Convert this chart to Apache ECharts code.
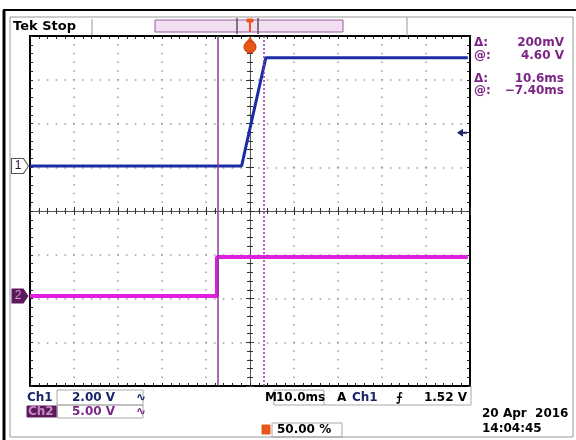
<!DOCTYPE html>
<html>
<head>
<meta charset="utf-8">
<script src="https://cdn.jsdelivr.net/npm/echarts@6/dist/echarts.min.js"></script>
<style>
html, body { margin: 0; padding: 0; background: #fff; }
#main { width: 576px; height: 440px; }
</style>
</head>
<body>
<div id="main"></div>
<script>
// channel 1 (blue), time in ms, level in V
var ch1Time = [-50, -1.9, -1.3, 3.6, 49.5];
var ch1Volt = [0, 0, 0.55, 4.95, 4.95];
// channel 2 (magenta)
var ch2Time = [-50, -7.5, -7.5, 49.5];
var ch2Volt = [0, 0, 4.45, 4.45];
// cursors (ms) and trigger level (V on ch1)
var cursorTimes = [-7.4, 3.2];
var trigLevel = 1.52;
var readouts = [['Δ:', '200mV'], ['@:', '4.60 V'], ['Δ:', '10.6ms'], ['@:', '−7.40ms']];

var L = 30, T = 36, W = 440, H = 350;
var ch1Scale = 2, ch1Pos = 1.03;   // V/div, ground position in divisions
var ch2Scale = 5, ch2Pos = -1.94;
var FONT = 'bold 12px "DejaVu Sans", sans-serif';
var PURPLE = '#7b2585', NAVY = '#1b2466';

var chart = echarts.init(document.getElementById('main'));

function pairs(xs, ys) { return xs.map(function (x, i) { return [x, ys[i]]; }); }
function grid() { return { left: L, top: T, width: W, height: H }; }
function divAxis(gi, pos, max, extra) {
  var a = {
    gridIndex: gi, type: 'value', position: pos, min: -max, max: max, interval: 1,
    axisLine: { show: true, onZero: false, lineStyle: { color: '#000', width: 2 } },
    axisTick: { show: true, inside: true, length: 3, lineStyle: { color: '#222' } },
    minorTick: { show: true, splitNumber: 5, length: 3, lineStyle: { color: '#222' } },
    axisLabel: { show: false }, splitLine: { show: false }
  };
  return Object.assign(a, extra || {});
}
function centerAxis(gi, max, inside, showLine) {
  return {
    gridIndex: gi, type: 'value', min: -max, max: max, interval: 1,
    axisLine: { show: showLine, onZero: true, lineStyle: { color: '#555', width: 1 } },
    axisTick: { show: true, inside: inside, length: 4, lineStyle: { color: '#333' } },
    minorTick: { show: true, splitNumber: 5, length: 3, lineStyle: { color: '#333' } },
    axisLabel: { show: false }, splitLine: { show: false }
  };
}
var dotsV = { show: true, lineStyle: { color: '#999', width: 1.5, type: [1.5, 7.25], dashOffset: 0.75 } };
var dotsH = { show: true, lineStyle: { color: '#999', width: 1.5, type: [1.5, 7.3], dashOffset: 0.75 } };

function txt(x, y, s, color, align, font) {
  return { type: 'text', x: x, y: y, silent: true, z: 10,
    style: { text: s, fill: color, font: font || FONT, textAlign: align || 'left', textVerticalAlign: 'middle' } };
}
function box(x, y, w, h, stroke, fill) {
  return { type: 'rect', silent: true, z: 5, shape: { x: x, y: y, width: w, height: h },
    style: { fill: fill || 'none', stroke: stroke || '#aaa', lineWidth: 1 } };
}
function ln(x1, y1, x2, y2, color, w) {
  return { type: 'line', silent: true, z: 6, shape: { x1: x1, y1: y1, x2: x2, y2: y2 },
    style: { stroke: color, lineWidth: w || 1 } };
}

var graphics = [
  // outer frame
  ln(4, 10, 4, 440, '#000', 3), ln(3, 10, 576, 10, '#000', 2),
  ln(10, 17, 10, 437, '#999', 1), ln(10, 17, 573, 17, '#999', 1),
  ln(573, 17, 573, 437, '#999', 1), ln(10, 437, 573, 437, '#999', 1),
  // header
  txt(13, 27, 'Tek Stop', '#000', 'left', 'bold 13px "DejaVu Sans", sans-serif'),
  ln(92, 19, 92, 35, '#999', 1), ln(407, 17, 407, 36, '#999', 1),
  box(155, 20, 188, 12, '#9a5aa0', '#f2dff2'),
  ln(237, 18, 237, 34, '#555', 1.5), ln(258, 18, 258, 34, '#555', 1.5),
  box(247, 19, 6, 3, '#e8561a', '#e8561a'), ln(250, 19, 250, 32, '#e8561a', 2),
  { type: 'polygon', silent: true, z: 12, shape: { points: [[250, 37], [255.5, 44], [244.5, 44]] },
    style: { fill: '#e8561a' } },
  { type: 'circle', silent: true, z: 12, shape: { cx: 250, cy: 47, r: 6 },
    style: { fill: '#e8561a', stroke: '#c83a0a', lineWidth: 1 } },
  // right readouts
  txt(474, 43, readouts[0][0], PURPLE), txt(564, 43, readouts[0][1], PURPLE, 'right'),
  txt(474, 56, readouts[1][0], PURPLE), txt(564, 56, readouts[1][1], PURPLE, 'right'),
  txt(474, 79, readouts[2][0], PURPLE), txt(564, 79, readouts[2][1], PURPLE, 'right'),
  txt(474, 91, readouts[3][0], PURPLE), txt(564, 91, readouts[3][1], PURPLE, 'right'),
  // bottom: channel settings
  txt(27, 398, 'Ch1', NAVY),
  box(27, 406, 30, 11, '#5c1a5c', '#5c1a5c'),
  txt(28, 412, 'Ch2', '#c58ac5'),
  box(57, 390, 86, 15), box(57, 405, 86, 13),
  txt(72, 398, '2.00 V', NAVY), txt(72, 412, '5.00 V', PURPLE),
  txt(136, 398, '∿', NAVY), txt(136, 412, '∿', PURPLE),
  // timebase / trigger
  txt(265, 398, 'M', '#000'), box(274, 390, 50, 15),
  txt(276, 398, '10.0ms', '#000'),
  txt(337, 398, 'A', '#000'), txt(352, 398, 'Ch1', NAVY),
  txt(396, 398, '⨍', '#000'), txt(467, 398, '1.52 V', '#000', 'right'),
  ln(324, 405, 471, 405, '#aaa', 1), ln(471, 386, 471, 405, '#aaa', 1),
  box(262, 425, 8, 9, '#e8561a', '#e8561a'),
  box(272, 423, 70, 14), txt(277, 430, '50.00 %', '#000'),
  // date
  txt(482, 414, '20 Apr  2016', '#000'), txt(482, 429, '14:04:45', '#000')
];

var option = {
  animation: false,
  backgroundColor: '#fff',
  grid: [grid(), grid(), grid(), grid()],
  xAxis: [
    { gridIndex: 0, type: 'value', min: -50, max: 50, show: false },
    divAxis(1, 'bottom', 5, { splitLine: dotsV }),
    divAxis(1, 'top', 5),
    centerAxis(2, 5, true, true),
    centerAxis(3, 5, false, false)
  ],
  yAxis: [
    { gridIndex: 0, type: 'value', min: (-4 - ch1Pos) * ch1Scale, max: (4 - ch1Pos) * ch1Scale, show: false },
    { gridIndex: 0, type: 'value', min: (-4 - ch2Pos) * ch2Scale, max: (4 - ch2Pos) * ch2Scale, show: false },
    divAxis(1, 'left', 4, { splitLine: dotsH }),
    divAxis(1, 'right', 4),
    centerAxis(2, 4, true, true),
    centerAxis(3, 4, false, false)
  ],
  series: [
    {
      type: 'line', xAxisIndex: 0, yAxisIndex: 1, z: 3,
      data: pairs(ch2Time, ch2Volt), symbol: 'none', silent: true,
      lineStyle: { color: '#e01ee0', width: 4 },
      markPoint: {
        silent: true,
        data: [{
          coord: [ch2Time[0], ch2Volt[0]], symbol: 'path://M0,0 L12,0 L17,7.5 L12,15 L0,15 Z',
          symbolSize: [17, 15], symbolOffset: [-10, 0],
          itemStyle: { color: '#5c1a5c' },
          label: { show: true, formatter: '2', color: '#d79ad7', font: FONT, offset: [-2, 0] }
        }]
      }
    },
    {
      type: 'line', xAxisIndex: 0, yAxisIndex: 0, z: 4,
      data: pairs(ch1Time, ch1Volt), symbol: 'none', silent: true,
      lineStyle: { color: '#1c2ca8', width: 3 },
      markLine: {
        silent: true, symbol: 'none', label: { show: false },
        data: [
          { xAxis: cursorTimes[0], lineStyle: { color: '#8a3a96', width: 1.5, type: 'solid' } },
          { xAxis: cursorTimes[1], lineStyle: { color: '#8a3a96', width: 1.5, type: [2, 2] } }
        ]
      },
      markPoint: {
        silent: true,
        data: [{
          coord: [ch1Time[0], ch1Volt[0]], symbol: 'path://M0,0 L12,0 L17,7.5 L12,15 L0,15 Z',
          symbolSize: [17, 15], symbolOffset: [-10, 0],
          itemStyle: { color: '#fff', borderColor: '#555', borderWidth: 1 },
          label: { show: true, formatter: '1', color: '#223', font: FONT, offset: [-2, 0] }
        }, {
          coord: [50, trigLevel], symbol: 'path://M0,4 L6,0 L6,3 L10,3 L10,5 L6,5 L6,8 Z',
          symbolSize: [10, 8], symbolOffset: [-8, 0],
          itemStyle: { color: NAVY }, label: { show: false }
        }]
      }
    }
  ],
  graphic: graphics
};
chart.setOption(option);
</script>
</body>
</html>
